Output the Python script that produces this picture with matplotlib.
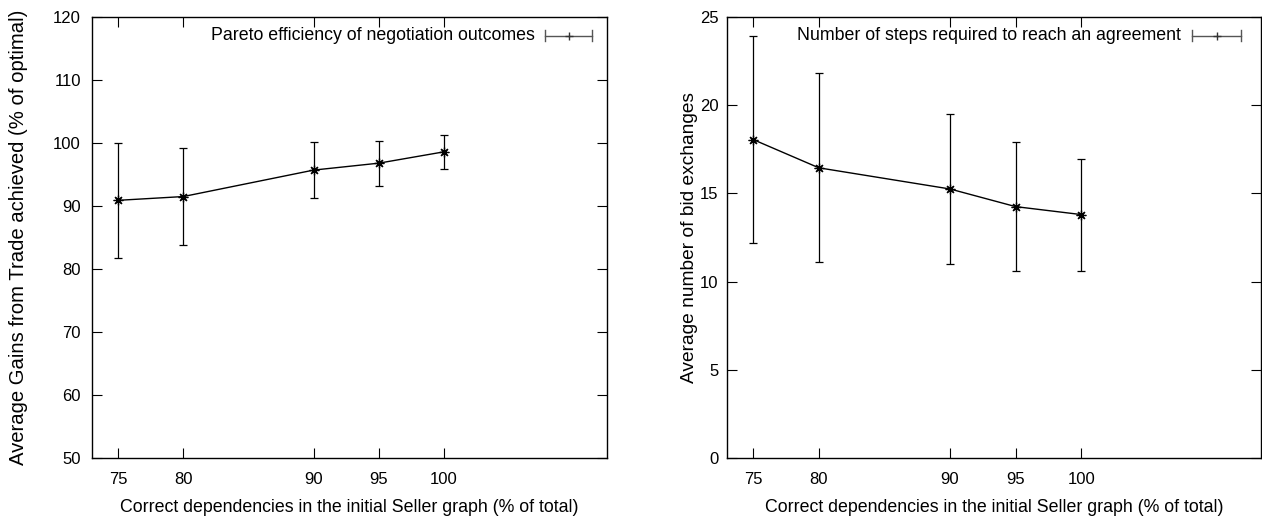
import matplotlib
matplotlib.use("Agg")
import matplotlib.pyplot as plt

plt.rcParams['font.family'] = ['Liberation Sans', 'DejaVu Sans']
plt.rcParams['font.size'] = 12

# Data
x_vals = [75, 80, 90, 95, 100]
x_ticks = [75, 80, 90, 95, 100]

gains_mean = [90.9, 91.5, 95.7, 96.8, 98.6]
gains_low = [81.7, 83.8, 91.3, 93.2, 95.9]
gains_high = [100.0, 99.2, 100.1, 100.3, 101.3]

steps_mean = [18.05, 16.45, 15.25, 14.25, 13.8]
steps_low = [12.2, 11.1, 11.0, 10.6, 10.6]
steps_high = [23.95, 21.8, 19.5, 17.9, 16.95]

left_label = "Pareto efficiency of negotiation outcomes"
right_label = "Number of steps required to reach an agreement"
xlabel = "Correct dependencies in the initial Seller graph (% of total)"
ylabel_left = "Average Gains from Trade achieved (% of optimal)"
ylabel_right = "Average number of bid exchanges"

W, H = 1262, 525
fig = plt.figure(figsize=(W / 100, H / 100), dpi=100)

ax1 = fig.add_axes([92 / W, 1 - 458 / H, (607 - 92) / W, (458 - 17) / H])
ax2 = fig.add_axes([727 / W, 1 - 458 / H, (1261 - 727) / W, (458 - 17) / H])

asterisk = (8, 2, 0)


def draw(ax, mean, low, high, label, ylim, yticks, ylabel, ylab_x, ylab_size, xmax,
         legend_text_x, sample_x0, sample_x1, ypad):
    yerr = [[m - l for m, l in zip(mean, low)], [h - m for m, h in zip(mean, high)]]
    ax.errorbar(x_vals, mean, yerr=yerr, color='black', lw=1.0, elinewidth=0.9,
                capsize=3, capthick=0.9, marker=asterisk, markersize=7, mew=0.9)
    ax.set_xlim(73, xmax)
    ax.set_ylim(*ylim)
    ax.set_xticks(x_ticks)
    ax.set_yticks(yticks)
    ax.tick_params(direction='in', length=7, width=0.8, top=True, right=True,
                   labeltop=False, labelright=False, labelsize=12)
    ax.tick_params(axis='x', pad=10)
    ax.tick_params(axis='y', pad=ypad)
    ax.set_xlabel(xlabel, fontsize=12.8, labelpad=9)
    ax.set_ylabel(ylabel, fontsize=ylab_size)
    ax.yaxis.set_label_coords(ylab_x, 0.5)
    for s in ax.spines.values():
        s.set_linewidth(1.0)
    # key
    trans = ax.transAxes
    yk = 0.958
    ax.text(legend_text_x, yk, label, transform=trans, ha='right', va='center', fontsize=12.8)
    ax.plot([sample_x0, sample_x1], [yk, yk], transform=trans, color='#555555', lw=1.0, clip_on=False)
    for xx in (sample_x0, sample_x1):
        ax.plot([xx, xx], [yk - 0.012, yk + 0.012], transform=trans, color='#555555', lw=1.0, clip_on=False)
    ax.plot([(sample_x0 + sample_x1) / 2], [yk], transform=trans, color='#333333',
            marker='+', markersize=6, mew=1.0, clip_on=False)


draw(ax1, gains_mean, gains_low, gains_high, left_label, (50, 120), list(range(50, 121, 10)),
     ylabel_left, (28 - 92) / 515, 14.6, 112.5, (535 - 92) / 515, (545 - 92) / 515, (592 - 92) / 515, 8)
draw(ax2, steps_mean, steps_low, steps_high, right_label, (0, 25), list(range(0, 26, 5)),
     ylabel_right, (698 - 727) / 534, 13.8, 113.7, (1181 - 727) / 534, (1192 - 727) / 534, (1241 - 727) / 534, 6)

fig.savefig("out.png", dpi=100)
